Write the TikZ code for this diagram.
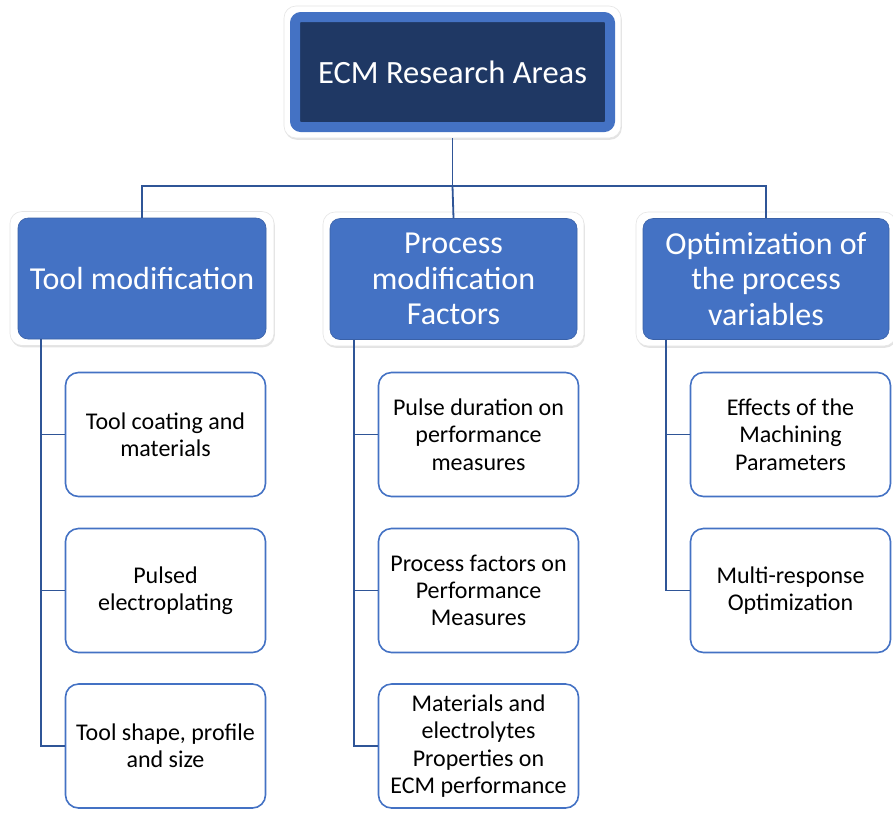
\documentclass[tikz,border=0pt]{standalone}
\usepackage{fontspec}
\setmainfont{Carlito}
\usetikzlibrary{shadows}
\definecolor{obl}{HTML}{4472C4}
\definecolor{dkb}{HTML}{1F3864}
\definecolor{conn}{HTML}{2F5597}
\tikzset{
  frame/.style={rectangle, rounded corners=12, fill=white, draw=black!10, line width=0.6,
    drop shadow={shadow xshift=0.8pt, shadow yshift=-1.8pt, opacity=0.22}},
  topbox/.style={rectangle, rounded corners=6, fill=dkb, draw=obl, line width=10,
    minimum width=315, minimum height=110, text=white, align=center,
    font=\fontsize{32.5}{37}\selectfont},
  lvlbox/.style={rectangle, rounded corners=10, fill=obl, draw=obl!85!black, line width=0.6,
    minimum width=248, minimum height=121, text=white, align=center,
    font=\fontsize{32}{35.5}\selectfont, inner sep=1},
  leafbox/.style={rectangle, rounded corners=13, fill=white, draw=obl, line width=1.6,
    minimum width=200, minimum height=124, text=black, align=center,
    font=\fontsize{24}{27.3}\selectfont, inner sep=1},
  link/.style={draw=conn, line width=1.8}
}
\begin{document}
\begin{tikzpicture}[x=1pt,y=-1pt]
\useasboundingbox[fill=white] (0,0) rectangle (893,812);
% frames
\node[frame, minimum width=337, minimum height=132] (topf) at (452.5,72) {};
\node[frame, minimum width=264, minimum height=134] (f1) at (142,278.5) {};
\node[frame, minimum width=261, minimum height=134] (f2) at (453.5,279) {};
\node[frame, minimum width=260, minimum height=134] (f3) at (766,279) {};
% top
\node[topbox] (top) at (452.5,72) {ECM Research Areas};
% level 1
\node[lvlbox] (tool) at (142,278.5) {Tool modification};
\node[lvlbox, minimum width=247] (proc) at (453.5,279) {Process\\modification\\Factors};
\node[lvlbox, minimum width=246] (opt) at (766,279) {Optimization of\\the process\\variables};
% leaves
\node[leafbox] (t1) at (165.5,434.5) {Tool coating and\\materials};
\node[leafbox] (t2) at (165.5,590.5) {Pulsed\\electroplating};
\node[leafbox] (t3) at (165.5,746) {Tool shape, profile\\and size};
\node[leafbox] (p1) at (478.5,434.5) {Pulse duration on\\performance\\measures};
\node[leafbox] (p2) at (478.5,590.5) {Process factors on\\Performance\\Measures};
\node[leafbox] (p3) at (478.5,746) {Materials and\\electrolytes\\Properties on\\ECM performance};
\node[leafbox] (o1) at (790.5,434.5) {Effects of the\\Machining\\Parameters};
\node[leafbox] (o2) at (790.5,590.5) {Multi-response\\Optimization};
% connectors
\coordinate (bar) at (0,186);
\draw[link] (top.south |- topf.south) -- (top.south |- bar) -| (tool.north);
\draw[link] (top.south |- bar) -- (proc.north);
\draw[link] (top.south |- bar) -| (opt.north);
\coordinate (lx) at (41,0);
\coordinate (px) at (354,0);
\coordinate (ox) at (666,0);
\draw[link] (lx |- tool.south) -- (lx |- t3.west) -- (t3.west);
\draw[link] (lx |- t1.west) -- (t1.west);
\draw[link] (lx |- t2.west) -- (t2.west);
\draw[link] (px |- proc.south) -- (px |- p3.west) -- (p3.west);
\draw[link] (px |- p1.west) -- (p1.west);
\draw[link] (px |- p2.west) -- (p2.west);
\draw[link] (ox |- opt.south) -- (ox |- o2.west) -- (o2.west);
\draw[link] (ox |- o1.west) -- (o1.west);
\end{tikzpicture}
\end{document}
